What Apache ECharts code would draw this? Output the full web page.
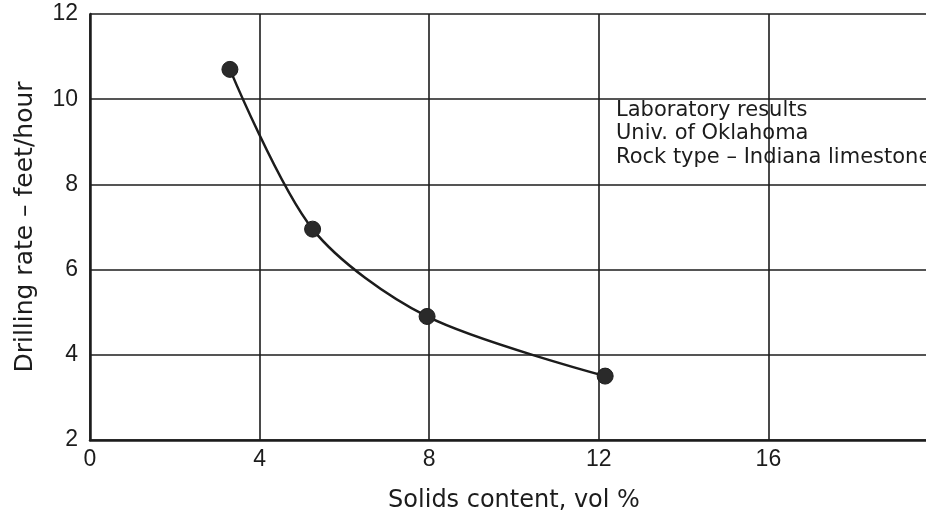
<!DOCTYPE html>
<html>
<head>
<meta charset="utf-8">
<script src="https://cdn.jsdelivr.net/npm/echarts@6/dist/echarts.min.js"></script>
<style>
html,body{margin:0;padding:0;background:#fff;}
#c{width:926px;height:515px;}
</style>
</head>
<body>
<div id="c"></div>
<script>
// Data
const solidsContent = [3.3, 5.25, 7.95, 12.15];      // vol %
const drillingRate  = [10.7, 6.95, 4.9, 3.5];        // feet/hour
const xTicks = [0, 4, 8, 12, 16, 20];
const yTicks = [2, 4, 6, 8, 10, 12];
const noteLines = ['Laboratory results', 'Univ. of Oklahoma', 'Rock type \u2013 Indiana limestone'];
const xName = 'Solids content, vol %';
const yName = 'Drilling rate \u2013 feet/hour';

const points = solidsContent.map((x, i) => [x, drillingRate[i]]);
const FONT = 'DejaVu Sans';
const TICKFONT = 'Liberation Sans';
const INK = '#1c1c1c';

const chart = echarts.init(document.getElementById('c'), null, {renderer: 'canvas'});
chart.setOption({
  backgroundColor: '#ffffff',
  animation: false,
  grid: {left: 90, top: 14, width: 848, height: 426, containLabel: false, outerBoundsMode: 'none'},
  xAxis: {
    type: 'value',
    min: xTicks[0], max: xTicks[xTicks.length - 1], interval: 4,
    name: xName, nameLocation: 'middle', nameGap: 49,
    nameTextStyle: {fontFamily: FONT, fontSize: 24, color: INK},
    axisLine: {show: true, lineStyle: {color: INK, width: 2.5}},
    axisTick: {show: false},
    axisLabel: {fontFamily: TICKFONT, fontSize: 23, color: INK, margin: 8},
    splitLine: {show: true, lineStyle: {color: INK, width: 1.6}}
  },
  yAxis: {
    type: 'value',
    min: yTicks[0], max: yTicks[yTicks.length - 1], interval: 2,
    name: yName, nameLocation: 'middle', nameGap: 52, nameRotate: 90,
    nameTextStyle: {fontFamily: FONT, fontSize: 25, color: INK},
    axisLine: {show: true, lineStyle: {color: INK, width: 2.5}},
    axisTick: {show: false},
    axisLabel: {fontFamily: TICKFONT, fontSize: 23, color: INK, margin: 12},
    splitLine: {show: true, lineStyle: {color: INK, width: 1.6}}
  },
  series: [{
    type: 'line',
    data: points,
    smooth: 0.3,
    symbol: 'circle',
    symbolSize: 16,
    lineStyle: {color: INK, width: 2.5},
    itemStyle: {color: '#2a2a2a', borderColor: INK, borderWidth: 1}
  }],
  graphic: [{
    type: 'group',
    left: 616, top: 100,
    children: noteLines.map((t, i) => ({
      type: 'text',
      x: 0, y: i * 23.5,
      style: {text: t, fontFamily: FONT, fontSize: 21, fill: INK}
    }))
  }]
});
</script>
</body>
</html>
